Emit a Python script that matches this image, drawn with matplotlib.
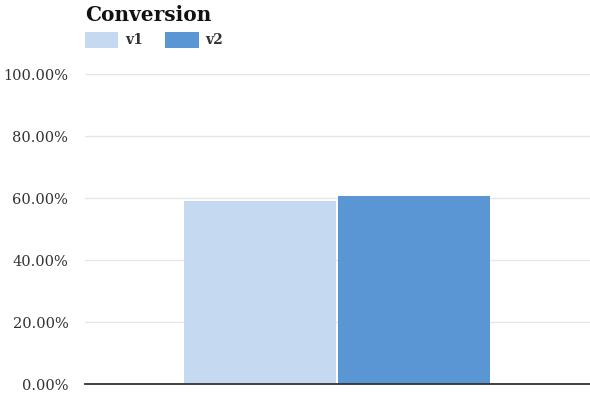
import matplotlib.pyplot as plt
from matplotlib.ticker import FuncFormatter

# data
series = ['v1', 'v2']
conversion = [58.9, 60.6]
colors = ['#c5daf0', '#5b96d4']
yticks = [0, 20, 40, 60, 80, 100]

plt.rcParams['font.family'] = ['DejaVu Serif']

fig = plt.figure(figsize=(5.9, 3.94), dpi=100)
ax = fig.add_axes([85 / 590, 10 / 394, 505 / 590, 310 / 394])

positions = [-0.5, 0.5]
for pos, val, col, name in zip(positions, conversion, colors, series):
    ax.bar(pos, val, width=0.99, color=col, label=name, zorder=2)

ax.set_xlim(-1.636, 1.643)
ax.set_ylim(0, 100)
ax.set_yticks(yticks)
ax.yaxis.set_major_formatter(FuncFormatter(lambda v, p: f'{v:.2f}%'))
ax.tick_params(axis='y', length=0, pad=12, labelsize=10.5, labelcolor='#333333')
ax.set_xticks([])
ax.grid(axis='y', color='#e6e6e6', linewidth=1, zorder=0)

for side in ['top', 'right', 'left']:
    ax.spines[side].set_visible(False)
ax.spines['bottom'].set_color('#333333')
ax.spines['bottom'].set_linewidth(1.3)
ax.spines['bottom'].set_zorder(3)

fig.text(85 / 590, 1 - 21 / 394, 'Conversion', fontsize=14.5, fontweight='bold',
         color='#111111', ha='left', va='baseline')

leg = fig.legend(loc='upper left', bbox_to_anchor=(85 / 590, 1 - 32 / 394),
                 ncol=2, frameon=False, fontsize=10, handlelength=2.4,
                 handleheight=1.35, handletextpad=0.5, columnspacing=1.6,
                 borderaxespad=0, borderpad=0)
for t in leg.get_texts():
    t.set_fontweight('bold')
    t.set_color('#333333')

fig.savefig('out.png', dpi=100)
